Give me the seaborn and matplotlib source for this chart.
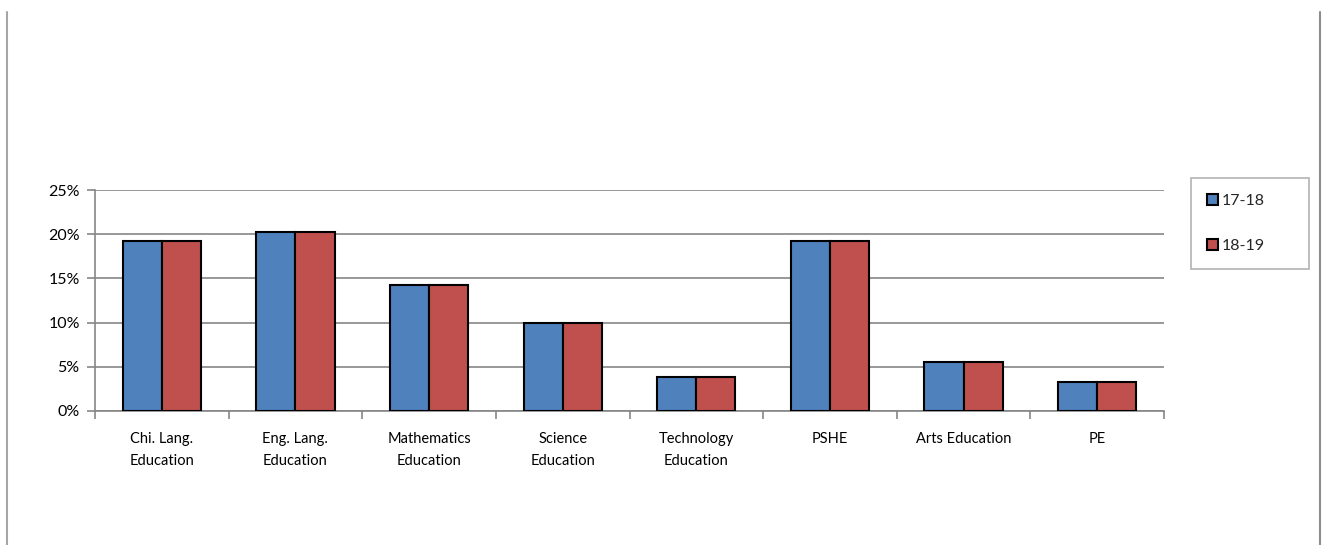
import matplotlib
matplotlib.use("Agg")
import matplotlib.pyplot as plt
import matplotlib.ticker as mticker
from matplotlib.lines import Line2D
import seaborn as sns
import pandas as pd
import numpy as np

categories = ["Chi. Lang.\nEducation", "Eng. Lang.\nEducation", "Mathematics\nEducation",
              "Science\nEducation", "Technology\nEducation", "PSHE", "Arts Education", "PE"]
series_names = ["17-18", "18-19"]
values_1718 = [19.2, 20.3, 14.3, 9.9, 3.8, 19.2, 5.5, 3.3]
values_1819 = [19.2, 20.3, 14.3, 9.9, 3.8, 19.2, 5.5, 3.3]
y_ticks = [0, 5, 10, 15, 20, 25]

df = pd.DataFrame({
    "category": categories * 2,
    "series": [series_names[0]] * len(categories) + [series_names[1]] * len(categories),
    "value": values_1718 + values_1819,
})

sns.set_theme(style="white")
plt.rcParams["font.family"] = ["Lato", "DejaVu Sans"]

W, H = 1322, 545
fig = plt.figure(figsize=(W / 100, H / 100), dpi=100)
ax = fig.add_axes([95 / W, 1 - 411 / H, (1164 - 95) / W, (411 - 190) / H])

palette = {"17-18": "#4F81BD", "18-19": "#C0504D"}
sns.barplot(data=df, x="category", y="value", hue="series", palette=palette,
            width=0.585, edgecolor="black", linewidth=1.5, saturation=1,
            ax=ax, legend=True, zorder=3)

ax.set_ylim(0, 25)
ax.set_xlim(-0.5, len(categories) - 0.5)
ax.set_yticks(y_ticks)
ax.yaxis.set_major_formatter(mticker.FuncFormatter(lambda v, p: f"{int(v)}%"))
ax.grid(axis="y", color="#868686", linewidth=1.2, zorder=0)
ax.set_axisbelow(True)
for s in ["top", "right"]:
    ax.spines[s].set_visible(False)
for s in ["left", "bottom"]:
    ax.spines[s].set_color("#868686")
    ax.spines[s].set_linewidth(1.2)
ax.set_xlabel("")
ax.set_ylabel("")

ax.tick_params(axis="y", which="major", length=6, width=1.2, color="#868686",
               labelsize=11.5, pad=5, left=True, labelcolor="black")
ax.tick_params(axis="x", which="major", length=0, labelsize=10.5, pad=15, labelcolor="black")
ax.set_xticks(np.arange(-0.5, len(categories), 1.0), minor=True)
ax.tick_params(axis="x", which="minor", length=6, width=1.2, color="#868686", bottom=True)
for lbl in ax.get_xticklabels():
    lbl.set_linespacing(1.7)

handles, labels = ax.get_legend_handles_labels()
ax.legend(handles, labels, loc="upper left",
          bbox_to_anchor=(1191 / W, 1 - 267 / H, (1309 - 1191) / W, (267 - 178) / H),
          bbox_transform=fig.transFigure, mode="expand",
          frameon=True, fancybox=False, edgecolor="#A0A0A0", fontsize=11.5,
          handlelength=0.7, handleheight=0.7, handletextpad=0.25,
          labelspacing=1.9, borderpad=1.0, borderaxespad=0)
leg = ax.get_legend()
leg.get_frame().set_linewidth(1.2)

fig.add_artist(Line2D([7 / W, 7 / W], [0, 1 - 12 / H], transform=fig.transFigure,
                      color="#A6A6A6", linewidth=1.5))
fig.add_artist(Line2D([1320 / W, 1320 / W], [0, 1 - 12 / H], transform=fig.transFigure,
                      color="#8C8C8C", linewidth=1.5))

fig.savefig("out.png", dpi=100, facecolor="white")
